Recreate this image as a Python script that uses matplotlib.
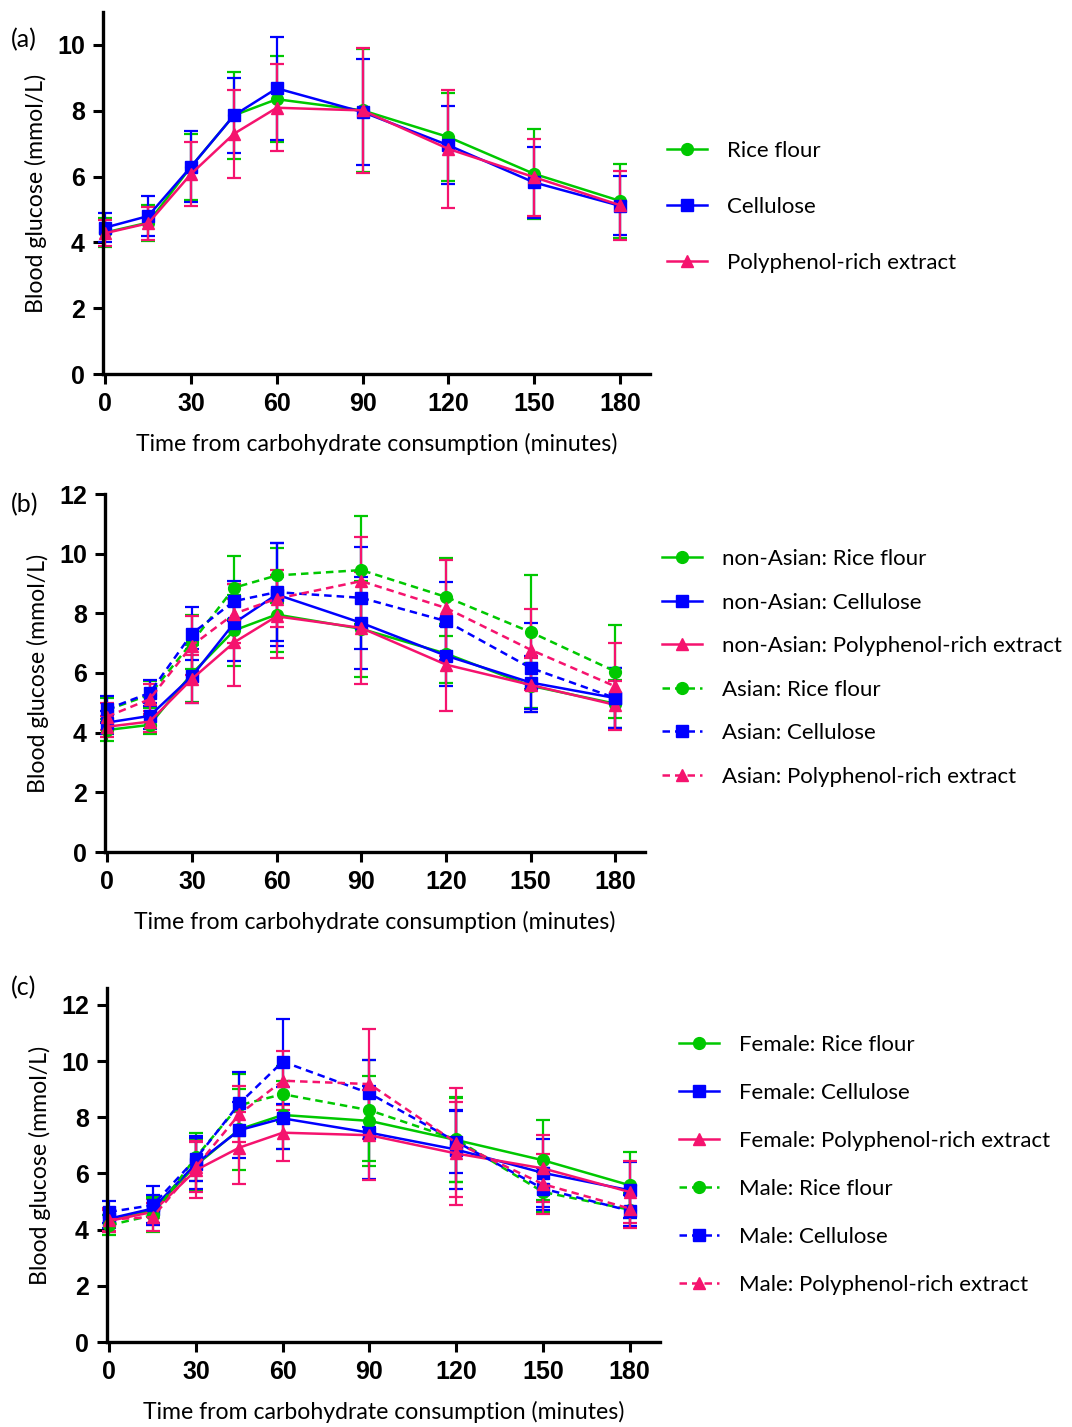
import matplotlib
matplotlib.use("Agg")
import matplotlib.pyplot as plt

# time points (minutes)
time = [0, 15, 30, 45, 60, 90, 120, 150, 180]

# panel (a) - all participants
rice_a = [4.30, 4.60, 6.30, 7.86, 8.35, 8.01, 7.20, 6.08, 5.26]
rice_a_sd = [0.43, 0.55, 1.00, 1.32, 1.30, 1.88, 1.35, 1.36, 1.13]
cell_a = [4.45, 4.80, 6.30, 7.86, 8.68, 7.96, 6.95, 5.82, 5.11]
cell_a_sd = [0.43, 0.62, 1.07, 1.13, 1.56, 1.62, 1.18, 1.07, 0.90]
poly_a = [4.28, 4.58, 6.08, 7.30, 8.09, 8.01, 6.84, 5.98, 5.13]
poly_a_sd = [0.40, 0.50, 0.97, 1.33, 1.32, 1.91, 1.80, 1.17, 1.05]

# panel (b) - ethnicity
nonasian_rice = [4.09, 4.26, 5.98, 7.43, 7.96, 7.48, 6.65, 5.57, 4.97]
nonasian_rice_sd = [0.36, 0.30, 0.95, 1.20, 1.27, 1.60, 1.00, 0.75, 0.80]
nonasian_cell = [4.34, 4.56, 5.89, 7.68, 8.63, 7.68, 6.58, 5.68, 5.16]
nonasian_cell_sd = [0.40, 0.45, 0.90, 1.29, 1.72, 1.55, 1.00, 0.90, 1.00]
nonasian_poly = [4.20, 4.37, 5.80, 7.03, 7.90, 7.51, 6.28, 5.60, 4.93]
nonasian_poly_sd = [0.35, 0.35, 0.80, 1.46, 1.40, 1.87, 1.57, 0.90, 0.80]
asian_rice = [4.76, 5.27, 7.03, 8.86, 9.27, 9.45, 8.55, 7.37, 6.05]
asian_rice_sd = [0.40, 0.45, 0.90, 1.06, 0.93, 1.82, 1.32, 1.91, 1.57]
asian_cell = [4.79, 5.33, 7.32, 8.41, 8.71, 8.52, 7.74, 6.17, 5.16]
asian_cell_sd = [0.45, 0.45, 0.90, 0.67, 1.64, 1.72, 1.31, 1.49, 1.00]
asian_poly = [4.54, 5.12, 6.92, 7.99, 8.49, 9.08, 8.18, 6.78, 5.55]
asian_poly_sd = [0.45, 0.50, 1.00, 1.00, 0.95, 1.49, 1.60, 1.35, 1.45]

# panel (c) - sex
female_rice = [4.33, 4.69, 6.29, 7.57, 8.08, 7.87, 7.19, 6.47, 5.58]
female_rice_sd = [0.40, 0.50, 0.90, 1.45, 1.20, 1.60, 1.50, 1.43, 1.17]
female_cell = [4.39, 4.75, 6.35, 7.54, 7.96, 7.45, 6.85, 6.02, 5.40]
female_cell_sd = [0.35, 0.50, 0.90, 1.00, 1.10, 1.65, 1.40, 1.20, 1.00]
female_poly = [4.31, 4.63, 6.12, 6.92, 7.45, 7.36, 6.71, 6.18, 5.34]
female_poly_sd = [0.40, 0.45, 1.00, 1.28, 1.00, 1.60, 1.84, 1.18, 1.10]
male_rice = [4.16, 4.51, 6.59, 8.43, 8.82, 8.25, 7.21, 5.34, 4.71]
male_rice_sd = [0.35, 0.60, 0.85, 1.10, 1.00, 1.80, 1.52, 0.70, 0.60]
male_cell = [4.63, 4.87, 6.53, 8.49, 9.98, 8.85, 7.13, 5.46, 4.67]
male_cell_sd = [0.40, 0.70, 0.80, 1.13, 1.50, 1.20, 1.10, 0.75, 0.55]
male_poly = [4.36, 4.45, 6.24, 8.11, 9.30, 9.18, 7.09, 5.62, 4.75]
male_poly_sd = [0.40, 0.50, 0.90, 1.00, 1.05, 1.95, 1.94, 1.07, 0.70]

GREEN = "#00c800"
BLUE = "#0000ff"
PINK = "#f5136e"

W, H = 1072, 1427
TXT = "Lato"
NUM = "Liberation Sans"
LAB = 16.6
LEG = 16.0

fig = plt.figure(figsize=(W / 100, H / 100), dpi=100)


def rect(l, r, t, b):
    return [l / W, 1 - b / H, (r - l) / W, (b - t) / H]


def style_axes(ax, ymax, yticks):
    ax.set_xlim(-0.8, 190.5)
    ax.set_ylim(0, ymax)
    ax.set_xticks([0, 30, 60, 90, 120, 150, 180])
    ax.set_yticks(yticks)
    for s in ["top", "right"]:
        ax.spines[s].set_visible(False)
    for s in ["left", "bottom"]:
        ax.spines[s].set_linewidth(2.4)
    ax.tick_params(direction="out", length=7, width=2.2, pad=6)
    for lab in ax.get_xticklabels() + ax.get_yticklabels():
        lab.set_fontfamily(NUM)
        lab.set_fontweight("bold")
        lab.set_fontsize(18)
    ax.set_xlabel("Time from carbohydrate consumption (minutes)", fontfamily=TXT,
                  fontsize=LAB, labelpad=12)
    ax.set_ylabel("Blood glucose (mmol/L)", fontfamily=TXT, fontsize=LAB, labelpad=7)


def series(ax, y, sd, color, marker, ls):
    eb = ax.errorbar(time, y, yerr=sd, color=color, marker=marker, ms=8.5,
                     lw=1.8, capsize=5, capthick=1.6, elinewidth=1.6, clip_on=False)
    if ls == "--":
        eb.lines[0].set_dashes((3, 2))
    return eb.lines[0]


def add_legend(ax, handles, labels, x, y, spacing):
    ax.legend(handles, labels, loc="upper left",
              bbox_to_anchor=(x / W, 1 - y / H), bbox_transform=fig.transFigure,
              frameon=False, prop={"family": TXT, "size": LEG}, handlelength=1.8,
              handletextpad=0.9, labelspacing=spacing, borderpad=0, borderaxespad=0)


# ---- (a)
ax1 = fig.add_axes(rect(103, 650, 12, 374))
h1 = [series(ax1, rice_a, rice_a_sd, GREEN, "o", "-"),
      series(ax1, cell_a, cell_a_sd, BLUE, "s", "-"),
      series(ax1, poly_a, poly_a_sd, PINK, "^", "-")]
style_axes(ax1, 11, [0, 2, 4, 6, 8, 10])
add_legend(ax1, h1, ["Rice flour", "Cellulose", "Polyphenol-rich extract"], 667, 141, 1.62)

# ---- (b)
ax2 = fig.add_axes(rect(105, 645, 494, 852))
h2 = [series(ax2, nonasian_rice, nonasian_rice_sd, GREEN, "o", "-"),
      series(ax2, nonasian_cell, nonasian_cell_sd, BLUE, "s", "-"),
      series(ax2, nonasian_poly, nonasian_poly_sd, PINK, "^", "-"),
      series(ax2, asian_rice, asian_rice_sd, GREEN, "o", "--"),
      series(ax2, asian_cell, asian_cell_sd, BLUE, "s", "--"),
      series(ax2, asian_poly, asian_poly_sd, PINK, "^", "--")]
style_axes(ax2, 12, [0, 2, 4, 6, 8, 10, 12])
add_legend(ax2, h2, ["non-Asian: Rice flour", "non-Asian: Cellulose",
                     "non-Asian: Polyphenol-rich extract", "Asian: Rice flour",
                     "Asian: Cellulose", "Asian: Polyphenol-rich extract"], 662, 549, 1.06)

# ---- (c)
ax3 = fig.add_axes(rect(107, 660, 988, 1342))
h3 = [series(ax3, female_rice, female_rice_sd, GREEN, "o", "-"),
      series(ax3, female_cell, female_cell_sd, BLUE, "s", "-"),
      series(ax3, female_poly, female_poly_sd, PINK, "^", "-"),
      series(ax3, male_rice, male_rice_sd, GREEN, "o", "--"),
      series(ax3, male_cell, male_cell_sd, BLUE, "s", "--"),
      series(ax3, male_poly, male_poly_sd, PINK, "^", "--")]
style_axes(ax3, 12.6, [0, 2, 4, 6, 8, 10, 12])
add_legend(ax3, h3, ["Female: Rice flour", "Female: Cellulose",
                     "Female: Polyphenol-rich extract", "Male: Rice flour",
                     "Male: Cellulose", "Male: Polyphenol-rich extract"], 679, 1035, 1.26)

# panel letters
for lbl, yp in [("(a)", 40), ("(b)", 505), ("(c)", 988)]:
    fig.text(11 / W, 1 - yp / H, lbl, fontfamily=TXT, fontsize=18, va="center")

fig.savefig("out.png", dpi=100)
